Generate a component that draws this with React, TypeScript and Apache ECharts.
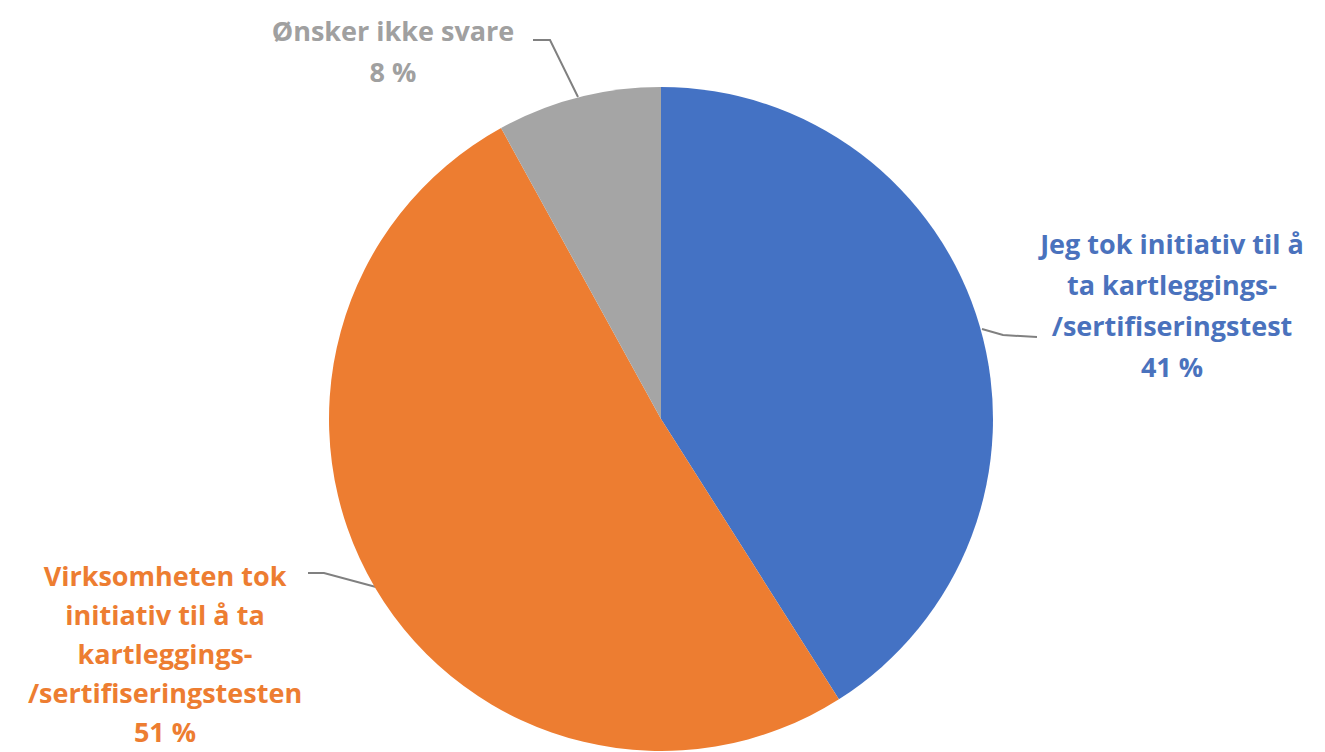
import React, { useEffect, useRef } from "react";
import * as echarts from "echarts";

const categories = [
  "Jeg tok initiativ til å\nta kartleggings-\n/sertifiseringstest",
  "Virksomheten tok\ninitiativ til å ta\nkartleggings-\n/sertifiseringstesten",
  "Ønsker ikke svare",
];
const values = [41, 51, 8];
const colors = ["#4472C4", "#ED7D31", "#A5A5A5"];
const textColors = ["#4A72BD", "#ED7D31", "#A0A0A0"];

const labelPos = [
  { x: 1172, y: 305, lh: 41, line: [[982, 329], [1003, 335], [1037, 337]] },
  { x: 165, y: 653, lh: 39, line: [[376, 587], [324, 573], [308, 573]] },
  { x: 393, y: 51, lh: 41, line: [[578, 97], [550, 40], [533, 40]] },
];

export default function App() {
  const ref = useRef<HTMLDivElement>(null);
  useEffect(() => {
    const chart = echarts.init(ref.current!, undefined, { renderer: "svg" });
    chart.setOption({
      animation: false,
      backgroundColor: "#ffffff",
      series: [
        {
          type: "pie",
          center: [661, 419],
          radius: 332,
          startAngle: 90,
          clockwise: true,
          avoidLabelOverlap: false,
          data: categories.map((name, i) => ({
            name,
            value: values[i],
            itemStyle: { color: colors[i] },
            label: { color: textColors[i], lineHeight: labelPos[i].lh },
          })),
          itemStyle: { borderColor: "#ffffff", borderWidth: 0 },
          label: {
            show: true,
            formatter: (p: any) => `${p.name}\n${p.value} %`,
            fontFamily: "'Open Sans', Lato, sans-serif",
            fontWeight: "bold",
            fontSize: 27,
            lineHeight: 41,
            align: "center",
          },
          labelLine: {
            show: true,
            lineStyle: { color: "#808080", width: 2 },
          },
          labelLayout: (params: any) => {
            const p = labelPos[params.dataIndex];
            return {
              x: p.x,
              y: p.y,
              align: "center",
              verticalAlign: "middle",
              labelLinePoints: p.line,
            };
          },
        },
      ],
    });
    return () => chart.dispose();
  }, []);
  return <div ref={ref} style={{ width: 1325, height: 752, position: "absolute", left: 0, top: 0 }} />;
}
